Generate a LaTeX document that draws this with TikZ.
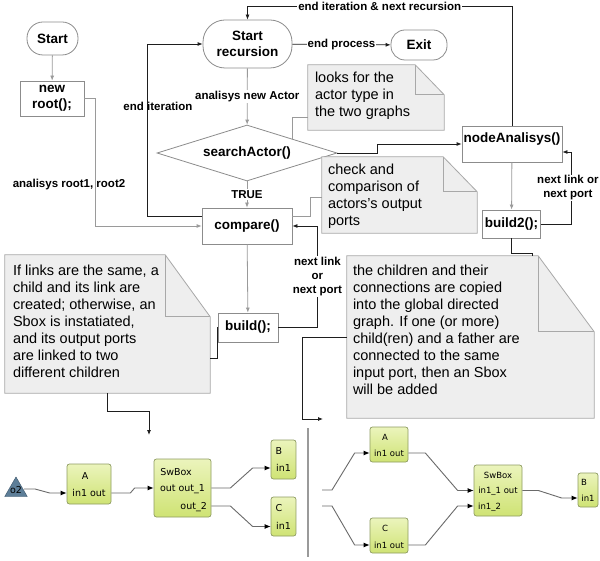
\documentclass[tikz,border=0pt]{standalone}
\usepackage{fontspec}
\setmainfont{Liberation Sans}
\newfontfamily\graphfont{DejaVu Sans}
\usepackage{xcolor}
\definecolor{flowGray}  {HTML}{9A9A9A}
\definecolor{boxEdge}   {HTML}{8C8C8C}
\definecolor{inkBlack}  {HTML}{1E1E1E}
\definecolor{noteBack}  {HTML}{EEEEEE}
\definecolor{noteEdge}  {HTML}{A8A8A8}
\definecolor{wireGray}  {HTML}{6A6A6A}
\definecolor{actorTop}  {HTML}{EBF4BC}
\definecolor{actorBot}  {HTML}{CFE374}
\definecolor{actorEdge} {HTML}{8E9C62}
\definecolor{portBack}  {HTML}{5D7E98}
\definecolor{portEdge}  {HTML}{3C556A}
\usetikzlibrary{arrows.meta, positioning, calc, shapes.geometric}

\newcommand{\flowfont}{\fontsize{13.5}{16}\selectfont\bfseries}
\newcommand{\edgefont}{\fontsize{11.5}{14}\selectfont\bfseries}
\newcommand{\notefont}{\fontsize{14.5}{17}\selectfont}
\newcommand{\bigactorfont}{\graphfont\fontsize{9.5}{11}\selectfont}
\newcommand{\smallactorfont}{\graphfont\fontsize{8.5}{10}\selectfont}
% note frame with a folded corner: node, fold width, fold height
\newcommand{\dogear}[3]{%
  \filldraw[fill=noteBack, draw=noteEdge, line width=0.8]
    (#1.north west) -- ($(#1.north east)+(-#2,0)$) -- ($(#1.north east)+(0,#3)$)
    -- (#1.south east) -- (#1.south west) -- cycle;
  \draw[noteEdge, line width=0.8] ($(#1.north east)+(-#2,0)$) |- ($(#1.north east)+(0,#3)$);
}

\begin{document}
\begin{tikzpicture}[x=1pt, y=-1pt,
    terminal/.style={draw=boxEdge, fill=white, font=\flowfont, align=center, inner sep=1, line width=0.8},
    process/.style={draw=boxEdge, fill=white, font=\flowfont, align=center, inner sep=1, line width=0.8},
    decision/.style={diamond, aspect=3.2, draw=boxEdge, fill=white, font=\flowfont, inner sep=0, line width=0.8},
    lbl/.style={font=\edgefont, fill=white, inner sep=1, align=center},
    freelbl/.style={font=\edgefont, inner sep=0},
    grayarrow/.style={draw=flowGray, line width=0.8, -{Latex[length=5,width=4]}},
    grayline/.style={draw=flowGray, line width=0.8},
    blackarrow/.style={draw=inkBlack, line width=0.8, -{Latex[length=5,width=4]}},
    blackline/.style={draw=inkBlack, line width=0.8},
    noteframe/.style={inner sep=0},
    notetext/.style={font=\notefont, align=left, inner sep=0},
    actor/.style={draw=actorEdge, rounded corners=2.5, top color=actorTop, bottom color=actorBot, inner sep=0, line width=0.7},
    bigtxt/.style={font=\bigactorfont, inner sep=0},
    smalltxt/.style={font=\smallactorfont, inner sep=0},
    wire/.style={draw=wireGray, line width=0.9, -{Latex[length=6,width=5,color=black]}},
    wirestart/.style={draw=wireGray, line width=0.9}]

    \fill[white] (0,0) rectangle (600,561);
    \useasboundingbox (0,0) rectangle (600,561);

    % --- flowchart nodes ---
    \node[terminal, rounded corners=16, minimum width=51, minimum height=33] (start) at (52.5,38.5) {Start};
    \node[process, minimum width=64, minimum height=35] (newRoot) at (52,98.5) {new\\root();};
    \node[terminal, rounded corners=22, minimum width=89, minimum height=48] (startRec) at (247.5,44) {Start\\recursion};
    \node[terminal, rounded corners=14, minimum width=56, minimum height=30] (exit) at (419,45) {Exit};
    \node[decision, minimum width=180, minimum height=56] (search) at (247,153) {searchActor()};
    \node[process, minimum width=90, minimum height=36] (compare) at (247,226) {compare()};
    \node[process, minimum width=60, minimum height=29] (build) at (248,327.5) {build();};
    \node[process, minimum width=100, minimum height=36, text height=13.5, text depth=16.5, inner ysep=3] (nodeAna) at (512,144) {nodeAnalisys()};
    \node[process, minimum width=58, minimum height=28] (build2) at (511.5,224) {build2();};

    % --- notes ---
    \node[noteframe, minimum width=136, minimum height=65] (lookNote) at (376,97.5) {};
    \dogear{lookNote}{29}{30}
    \node[notetext, anchor=north west] (lookText) at ($(lookNote.north west)+(7,7)$) {looks for the\\actor type in\\the two graphs};

    \node[noteframe, minimum width=155, minimum height=76] (checkNote) at (399.5,195) {};
    \dogear{checkNote}{34}{35}
    \node[notetext, anchor=north west] (checkText) at ($(checkNote.north west)+(6,7)$) {check and\\comparison of\\actors's output\\ports};

    \node[noteframe, minimum width=205, minimum height=138] (ruleNote) at (107.5,324) {};
    \dogear{ruleNote}{45}{62}
    \node[notetext, anchor=north west] (ruleText) at ($(ruleNote.north west)+(8,10)$) {If links are the same, a\\child and its link are\\created; otherwise, an\\Sbox is instatiated,\\and its output ports\\are linked  to two\\different children};

    \node[noteframe, minimum width=247, minimum height=162] (copyNote) at (470.5,337) {};
    \dogear{copyNote}{56}{76}
    \node[notetext, anchor=north west] (copyText) at ($(copyNote.north west)+(6,9)$) {the children and their\\connections are copied\\into the global directed\\graph. If one (or more)\\child(ren) and a father  are\\connected to the same\\input port, then an Sbox\\will be added};

    % --- flowchart connectors ---
    \draw[grayarrow] (start) -- (newRoot);
    \draw[grayarrow] (newRoot.east) -- ++(11,0) |- (compare.west);
    \node[freelbl] (rootLbl) at (69,185) {analisys root1, root2};
    \draw[grayarrow] (startRec) -- node[lbl] {analisys new Actor} (search);
    \draw[grayarrow] (search) -- node[lbl] {TRUE} (compare);
    \draw[grayarrow] (compare) -- (build);
    \draw[grayarrow] (nodeAna) -- (build2);
    \draw[blackarrow] ($(compare.north west)+(0,9)$) -- ++(-54,0) |- (startRec.west);
    \node[freelbl] (iterLbl) at (158,106) {end iteration};
    \draw[blackarrow] (startRec) -- node[lbl] {end process} (exit);
    \draw[blackarrow] (nodeAna.north) -- ++(0,-119) -| node[lbl, pos=0.25] {end iteration \& next recursion} (startRec.north);
    \draw[blackarrow] (search.east) -- ++(40,0) |- (nodeAna.west);
    \draw[grayline] (search.north east) |- ($(lookNote.south west)+(0,-13)$);
    \draw[grayline] ($(compare.north east)+(0,9)$) -- ++(18,0) |- ($(checkNote.west)+(0,2)$);
    \draw[blackarrow] (build.east) -- ++(39,0) |- node[lbl, pos=0.25] {next link\\or\\next port} (compare.east);
    \draw[blackarrow] (build2.east) -- ++(30,0) |- node[lbl, pos=0.25, xshift=-3, inner sep=0.5] {next link or\\next port} ($(nodeAna.east)+(0,8)$);
    \draw[blackline] (build.west) |- ($(ruleNote.south east)+(0,-35)$);
    \draw[blackline] (build2.south) -- ++(0,15) -| ($(copyNote.north west)+(186,0)$);

    % --- hooks down to the two example graphs ---
    \coordinate (leftIn) at (149,435);
    \coordinate (rightIn) at (323,419);
    \draw[blackarrow] (ruleNote.south) -- ++(0,18) -| (leftIn);
    \draw[blackarrow] ($(copyNote.north west)+(0,82)$) -- ++(-44,0) |- (rightIn);
    \draw[flowGray, line width=1.2] (308,428) -- (308,557);

    % --- left graph: one father, Sbox splits to two children ---
    \node[regular polygon, regular polygon sides=3, minimum size=26, inner sep=0, draw=portEdge, fill=portBack] (o2) at (16,490) {};
    \node[bigtxt] (o2Name) at (16,490) {o2};
    \node[actor, minimum width=44, minimum height=40] (leftA) at (89,484) {};
    \node[bigtxt] (leftAName) at (85,476) {A};
    \node[bigtxt] (leftAPorts) at (89,493) {in1 out};
    \node[actor, minimum width=57, minimum height=58] (leftSw) at (182.5,488) {};
    \node[bigtxt] (leftSwName) at (176,472) {SwBox};
    \node[bigtxt] (leftSwPorts) at (182.5,489) {out out\_1};
    \node[bigtxt, anchor=east] (leftSwOut) at (207,507) {out\_2};
    \node[actor, minimum width=25, minimum height=39] (leftB) at (283.5,459.5) {};
    \node[bigtxt] (leftBName) at (279,451) {B};
    \node[bigtxt] (leftBPorts) at (283.5,468) {in1};
    \node[actor, minimum width=25, minimum height=39] (leftC) at (283.5,516.5) {};
    \node[bigtxt] (leftCName) at (279,508) {C};
    \node[bigtxt] (leftCPorts) at (283.5,526) {in1};

    \draw[wire] ($(o2.center)+(8,-1)$) -- ++(11,0) -- ($(leftA.west)+(-17,9)$) -- ($(leftA.west)+(0,9)$);
    \draw[wire] ($(leftA.east)+(0,9)$) -- ++(19,0) -- ($(leftSw.west)+(-19,0)$) -- (leftSw.west);
    \draw[wire] (leftSw.east) -- ++(19,0) -- ($(leftB.west)+(-18,8.5)$) -- ($(leftB.west)+(0,8.5)$);
    \draw[wire] ($(leftSw.east)+(0,18)$) -- ++(19,0) -- ($(leftC.west)+(-18,10)$) -- ($(leftC.west)+(0,10)$);

    % --- right graph: two fathers merged by an Sbox ---
    \coordinate (splitTop) at (322,490);
    \coordinate (splitBot) at (322,506);
    \node[actor, minimum width=38, minimum height=35] (rightA) at (389,444.5) {};
    \node[smalltxt] (rightAName) at (385,437) {A};
    \node[smalltxt] (rightAPorts) at (389,453) {in1 out};
    \node[actor, minimum width=38, minimum height=35] (rightC) at (389,535.5) {};
    \node[smalltxt] (rightCName) at (385,528) {C};
    \node[smalltxt] (rightCPorts) at (389,545) {in1 out};
    \node[actor, minimum width=48, minimum height=51] (rightSw) at (498,490.5) {};
    \node[smalltxt] (rightSwName) at (498,475) {SwBox};
    \node[smalltxt] (rightSwPorts) at (498,491) {in1\_1 out};
    \node[smalltxt, anchor=west] (rightSwIn) at (478,507) {in1\_2};
    \node[actor, minimum width=20, minimum height=34] (rightB) at (588,490) {};
    \node[smalltxt] (rightBName) at (584,482) {B};
    \node[smalltxt] (rightBPorts) at (588,498) {in1};

    \draw[wire] (splitTop) -- ++(10,0) -- ($(rightA.west)+(-15,8.5)$) -- ($(rightA.west)+(0,8.5)$);
    \draw[wire] (splitBot) -- ++(10,0) -- ($(rightC.west)+(-15,9.5)$) -- ($(rightC.west)+(0,9.5)$);
    \draw[wire] ($(rightA.east)+(0,8.5)$) -- ++(17,0) -- ($(rightSw.west)+(-16,0)$) -- (rightSw.west);
    \draw[wire] ($(rightC.east)+(0,9.5)$) -- ++(17,0) -- ($(rightSw.west)+(-16,15.5)$) -- ($(rightSw.west)+(0,15.5)$);
    \draw[wire] (rightSw.east) -- ++(16,0) -- ($(rightB.west)+(-16,8)$) -- ($(rightB.west)+(0,8)$);
\end{tikzpicture}
\end{document}
